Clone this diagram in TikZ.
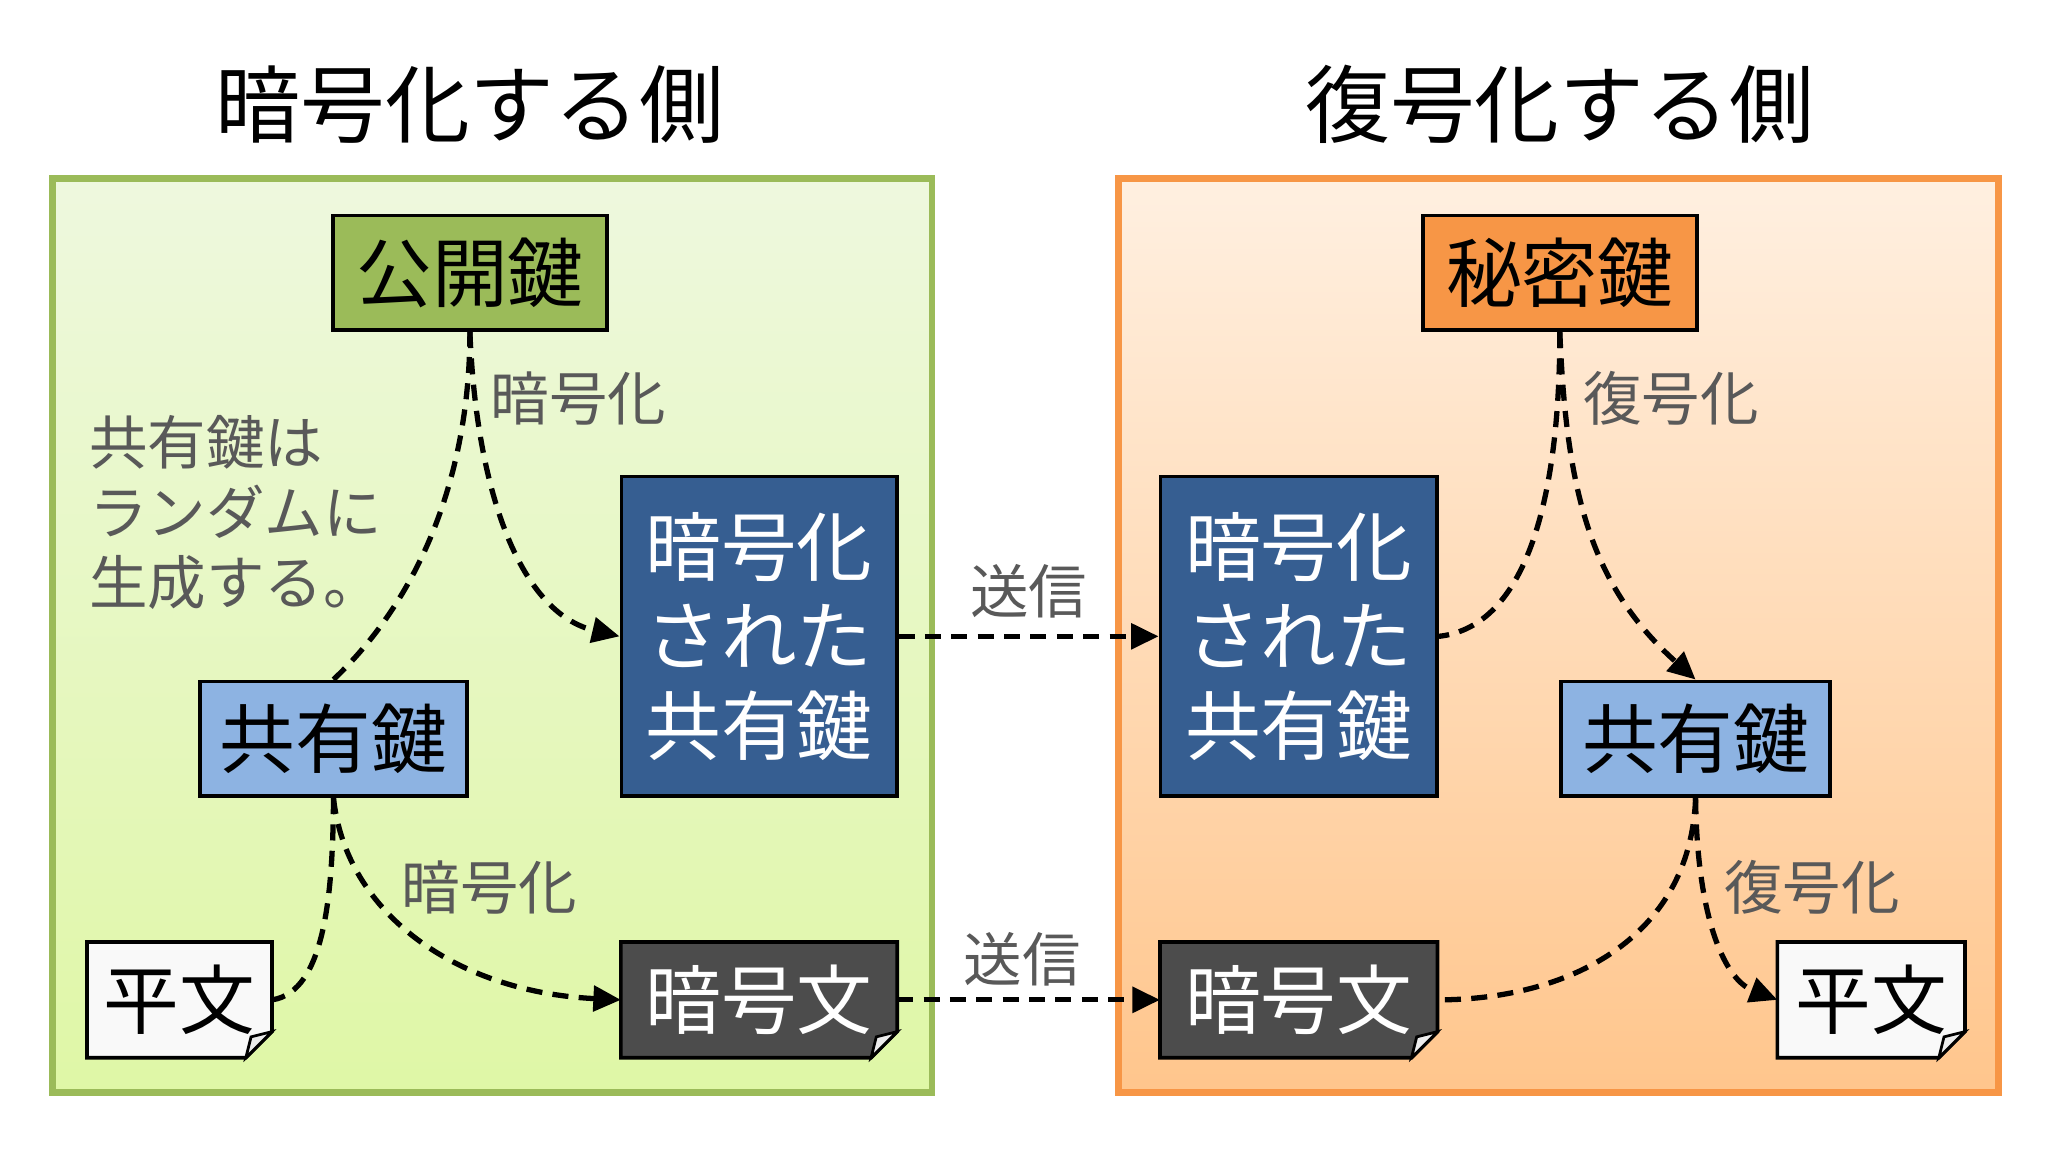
\documentclass[tikz,border=0pt]{standalone}
\usepackage{fontspec}
\setmainfont{Noto Sans CJK JP}
\usetikzlibrary{arrows.meta}
\definecolor{lab}{HTML}{595959}
\definecolor{gtop}{HTML}{EEF8DE}
\definecolor{gbot}{HTML}{DFF7A6}
\tikzset{
 box/.style={draw=black,line width=1.6pt,inner sep=0pt,font=\fontsize{33}{38}\selectfont,align=center},
 doc/.style={inner sep=0pt,font=\fontsize{33}{38}\selectfont,minimum width=#1,minimum height=1.76cm},
 lbl/.style={text=lab,font=\fontsize{25.5}{30}\selectfont,inner sep=0pt},
 con/.style={line width=2.3pt,dash pattern=on 7pt off 4.5pt},
 arr/.style={con,-{Triangle[length=12pt,width=11pt]}},
 ttl/.style={font=\fontsize{37}{42}\selectfont,inner sep=0pt}
}
\newcommand{\mydoc}[2]{%
 \filldraw[fill=#2,draw=black,line width=1.6pt] (#1.north west) -- (#1.north east) -- ([yshift=0.4cm]#1.south east) -- ([xshift=-0.4cm]#1.south east) -- (#1.south west) -- cycle;
 \filldraw[fill=white!85!gray,draw=black,line width=1.2pt] ([yshift=0.4cm]#1.south east) -- ([xshift=-0.4cm]#1.south east) -- ([xshift=-0.32cm,yshift=0.32cm]#1.south east) -- cycle;}
\begin{document}
\begin{tikzpicture}[x=0.02cm,y=-0.02cm]
\useasboundingbox[fill=white] (0,0) rectangle (1569,882.6);
\node[ttl] (t1) at (360,80) {暗号化する側};
\node[ttl] (t2) at (1195,80) {復号化する側};
\shade[top color=gtop,bottom color=gbot] (40,137) rectangle (714,837);
\draw[line width=3pt,draw={rgb,255:red,155;green,187;blue,89}] (40,137) rectangle (714,837);
\shade[top color=orange!12!white,bottom color=orange!45!white] (857,137) rectangle (1531,837);
\draw[line width=3pt,draw={rgb,255:red,247;green,150;blue,70}] (857,137) rectangle (1531,837);

\node[box,fill={rgb,255:red,155;green,187;blue,89},minimum width=4.2cm,minimum height=1.76cm] (pub) at (360,209) {公開鍵};
\node[box,fill={rgb,255:red,247;green,150;blue,70},minimum width=4.2cm,minimum height=1.76cm] (sec) at (1195,209) {秘密鍵};
\node[box,fill={rgb,255:red,141;green,179;blue,226},minimum width=4.1cm,minimum height=1.76cm] (kL) at (255.5,566) {共有鍵};
\node[box,fill={rgb,255:red,141;green,179;blue,226},minimum width=4.12cm,minimum height=1.76cm] (kR) at (1299,566) {共有鍵};
\node[box,fill={rgb,255:red,54;green,94;blue,145},text=white,minimum width=4.22cm,minimum height=4.9cm,font=\fontsize{33}{39}\selectfont] (eL) at (581.5,487.5) {暗号化\\された\\共有鍵};
\node[box,fill={rgb,255:red,54;green,94;blue,145},text=white,minimum width=4.24cm,minimum height=4.9cm,font=\fontsize{33}{39}\selectfont] (eR) at (995,487.5) {暗号化\\された\\共有鍵};

\node[doc=2.82cm] (pL) at (137.5,766) {};
\mydoc{pL}{white!95!gray}
\node[doc=2.82cm] at (pL) {平文};
\node[doc=4.22cm] (cL) at (581.5,766) {};
\mydoc{cL}{white!30!black}
\node[doc=4.22cm,text=white] at (cL) {暗号文};
\node[doc=4.24cm] (cR) at (995,766) {};
\mydoc{cR}{white!30!black}
\node[doc=4.24cm,text=white] at (cR) {暗号文};
\node[doc=2.86cm] (pR) at (1433.5,766) {};
\mydoc{pR}{white!95!gray}
\node[doc=2.86cm] at (pR) {平文};

\node[lbl] (l1) at (443,305) {暗号化};
\node[lbl,align=left,anchor=north west,font=\fontsize{25.5}{30.5}\selectfont] (l2) at (68,318) {共有鍵は\\ランダムに\\生成する。};
\node[lbl] (l3) at (375,680) {暗号化};
\node[lbl] (l4) at (788,453) {送信};
\node[lbl] (l5) at (783,735) {送信};
\node[lbl] (l6) at (1280,305) {復号化};
\node[lbl] (l7) at (1388,680) {復号化};

\draw[con] (kL.north) .. controls (330,450) and (360,350) .. (pub.south);
\draw[arr] (pub.south) .. controls (365,380) and (400,470) .. (eL.west);
\draw[arr] (eL.east) -- (eR.west);
\draw[con] (kL.south) .. controls (255,680) and (250,760) .. (pL.east);
\draw[arr] (kL.south) .. controls (265,700) and (350,760) .. (cL.west);
\draw[arr] (cL.east) -- (cR.west);
\draw[con] (sec.south) .. controls (1195,380) and (1170,480) .. (eR.east);
\draw[arr] (sec.south) .. controls (1200,380) and (1220,450) .. (kR.north);
\draw[con] (kR.south) .. controls (1295,720) and (1200,766) .. (cR.east);
\draw[arr] (kR.south) .. controls (1300,700) and (1320,750) .. (pR.west);
\end{tikzpicture}
\end{document}
